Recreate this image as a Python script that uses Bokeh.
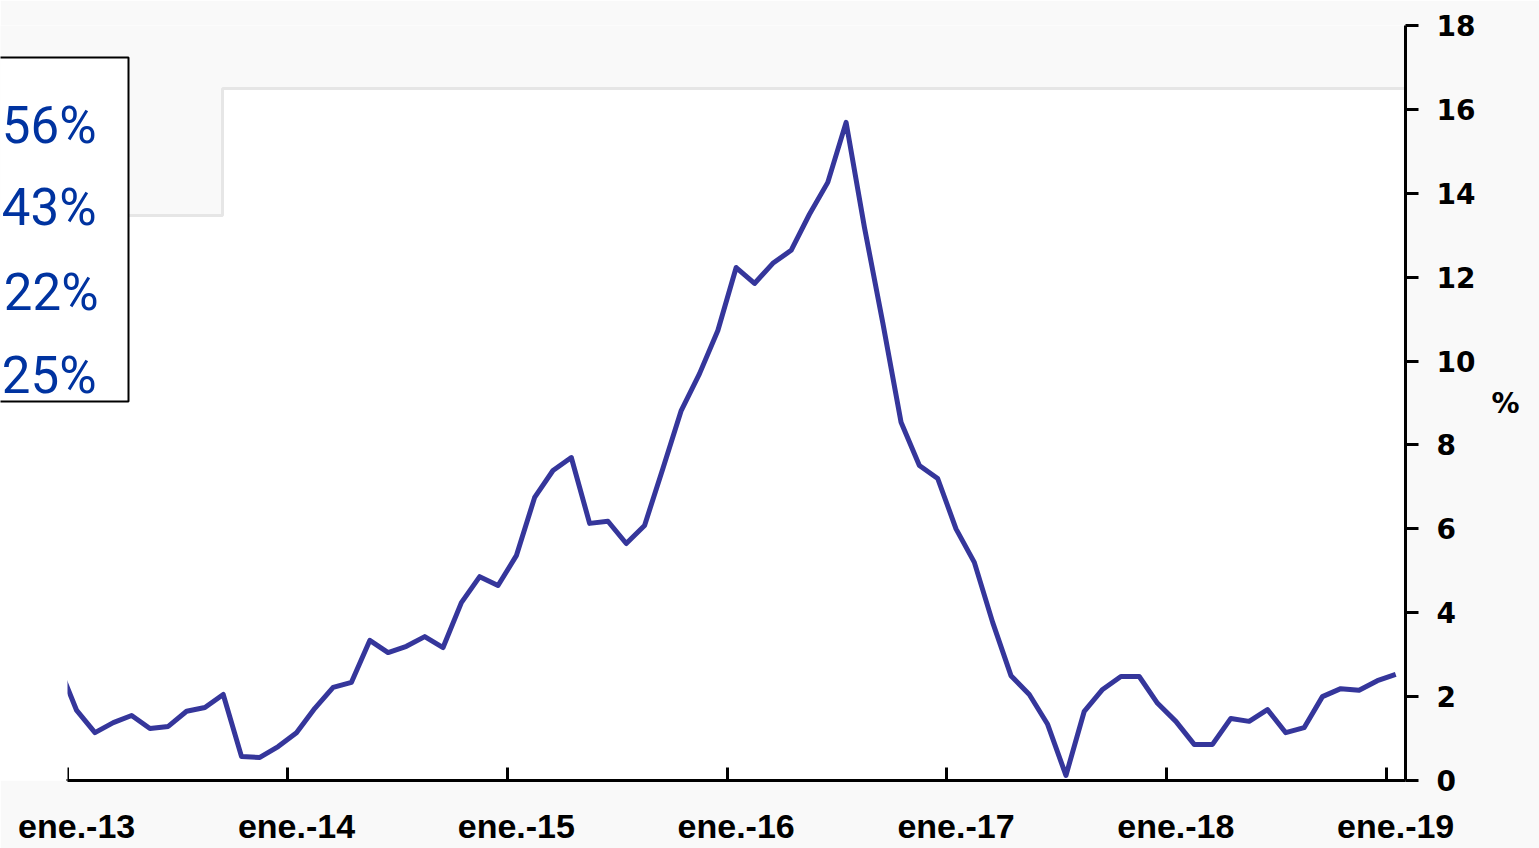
import numpy as np
from bokeh.plotting import figure
from bokeh.models import (LinearAxis, FixedTicker, Range1d, Label, BoxAnnotation,
                          PolyAnnotation)
from bokeh.embed import file_html
from bokeh.resources import INLINE

# ---- data -------------------------------------------------------------
# monthly values from dic.-12 to ene.-19 (%)
values = [2.75,
          1.67, 1.14, 1.38, 1.55, 1.24, 1.29, 1.65, 1.74, 2.05, 0.57, 0.55, 0.81,
          1.14, 1.72, 2.22, 2.34, 3.34, 3.05, 3.20, 3.43, 3.17, 4.24, 4.86, 4.65,
          5.36, 6.75, 7.39, 7.70, 6.13, 6.18, 5.65, 6.08, 7.44, 8.82, 9.70, 10.73,
          12.23, 11.85, 12.33, 12.64, 13.50, 14.26, 15.69, 13.19, 10.92, 8.54, 7.51, 7.20,
          6.00, 5.20, 3.77, 2.50, 2.05, 1.34, 0.12, 1.65, 2.17, 2.48, 2.48, 1.84,
          1.41, 0.86, 0.86, 1.48, 1.41, 1.69, 1.14, 1.26, 2.00, 2.19, 2.15, 2.38,
          2.53]
year_labels = ["ene.-13", "ene.-14", "ene.-15", "ene.-16", "ene.-17", "ene.-18", "ene.-19"]
y_ticks = [0, 2, 4, 6, 8, 10, 12, 14, 16, 18]
box_texts = ["56%", "43%", "22%", "25%"]

# ---- layout (canvas pixels) -------------------------------------------
W, H = 1539, 848
AX_L, AX_R, AX_T, AX_B = 67, 1405, 25, 780   # where the axes lie
PX_MONTH = 18.32
PX_UNIT = (AX_B - AX_T) / 18.0
X_START = 0.5                                 # x of the first axis boundary
X0 = X_START - AX_L / PX_MONTH
X1 = X_START + (AX_R - AX_L) / PX_MONTH

def px_x(sx):   # canvas x -> data x (annotation placement only)
    return X_START + (sx - AX_L) / PX_MONTH
def px_y(sy):   # canvas y -> data y
    return (AX_B - sy) / PX_UNIT

x = np.arange(len(values))           # dic.-12 = 0, ene.-13 = 1, ...
label_pos = [1 + 12 * k for k in range(len(year_labels))]
bound_pos = [X_START + 12 * k for k in range(len(year_labels))]

p = figure(width=W, height=H, output_backend="svg", toolbar_location=None,
           x_range=Range1d(X0, X1), y_range=Range1d(0, 18),
           x_axis_location=None, y_axis_location=None,
           min_border_left=0, min_border_right=W - AX_R,
           min_border_top=AX_T, min_border_bottom=H - AX_B)
p.grid.visible = False
p.outline_line_color = None
p.background_fill_color = "white"
p.border_fill_color = "#f9f9f9"

# faint page decoration (stepped grey band at the top)
p.add_layout(PolyAnnotation(
    xs=[px_x(-20), px_x(222), px_x(222), px_x(1600), px_x(1600), px_x(-20)],
    ys=[px_y(215), px_y(215), px_y(88), px_y(88), px_y(-40), px_y(-40)],
    fill_color="#f9f9f9", fill_alpha=1.0, line_color="#e6e6e6",
    line_alpha=1.0, line_width=3, level="underlay"))

p.line(x, values, line_color="#35369b", line_width=5, line_join="round")

# the line is cut at the start of the axis
p.add_layout(BoxAnnotation(left=px_x(-30), right=X_START, top=px_y(420),
                           bottom=px_y(779), fill_color="white", fill_alpha=1.0,
                           line_color=None))

# x axis: boundaries as ticks, labels at mid-january
xaxis = LinearAxis(ticker=FixedTicker(ticks=label_pos, minor_ticks=bound_pos),
                   bounds=(X_START, X1),
                   major_label_overrides={v: t for v, t in zip(label_pos, year_labels)},
                   major_tick_in=0, major_tick_out=0,
                   minor_tick_in=13, minor_tick_out=0,
                   minor_tick_line_width=3, minor_tick_line_color="black",
                   axis_line_width=3, axis_line_color="black",
                   major_label_standoff=26,
                   major_label_text_font="Liberation Sans",
                   major_label_text_font_style="bold",
                   major_label_text_font_size="34px",
                   major_label_text_color="black")
p.add_layout(xaxis, "below")

yaxis = LinearAxis(ticker=FixedTicker(ticks=y_ticks, minor_ticks=[]),
                   bounds=(0, 18),
                   major_tick_in=0, major_tick_out=13,
                   major_tick_line_width=3, major_tick_line_color="black",
                   axis_line_width=3, axis_line_color="black",
                   major_label_standoff=18,
                   major_label_text_font="DejaVu Sans",
                   major_label_text_font_style="bold",
                   major_label_text_font_size="28px",
                   major_label_text_color="black",
                   axis_label="%", axis_label_orientation="horizontal",
                   axis_label_standoff=13,
                   axis_label_text_font="DejaVu Sans",
                   axis_label_text_font_style="bold",
                   axis_label_text_font_size="28px",
                   axis_label_text_color="black")
p.add_layout(yaxis, "right")

# boxed text block at the top left
p.add_layout(BoxAnnotation(left=px_x(-30), right=px_x(128), top=px_y(57),
                           bottom=px_y(401), fill_color="white", fill_alpha=1.0,
                           line_color="black", line_alpha=1.0, line_width=2))
rights = [96, 96, 98, 96]
bases = [125, 207, 292, 375]
for t, r, b in zip(box_texts, rights, bases):
    p.add_layout(Label(x=px_x(r), y=px_y(b), text=t, text_align="right",
                       text_baseline="alphabetic",
                       text_font="Roboto",
                       text_font_size="51px", text_color="#0033a0"))

open("out.html", "w").write(file_html(p, INLINE))
